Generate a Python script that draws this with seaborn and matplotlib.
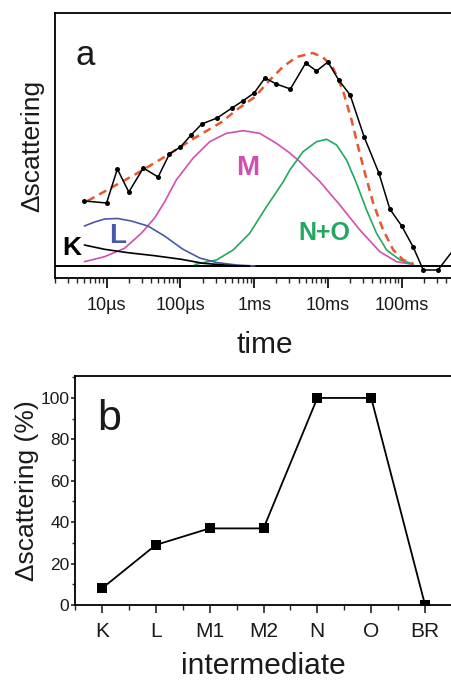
import numpy as np
import pandas as pd
import matplotlib
matplotlib.use("Agg")
import matplotlib.pyplot as plt
import seaborn as sns
from matplotlib.ticker import FixedLocator, FixedFormatter, LogLocator, NullFormatter, MultipleLocator

# ---------------- Panel a data (time in s, scattering in arbitrary units) ----------------
data_t = [5e-6, 1e-5, 1.4e-5, 2e-5, 3.15e-5, 5e-5, 7.1e-5, 1e-4, 1.4e-4, 1.95e-4,
          3.15e-4, 5e-4, 7e-4, 1e-3, 1.4e-3, 2e-3, 3.1e-3, 5e-3, 7e-3, 1e-2,
          1.4e-2, 2e-2, 3.1e-2, 4.9e-2, 6.9e-2, 1e-1, 1.43e-1, 1.96e-1, 3.1e-1, 5e-1]
data_v = [65, 63, 97, 74, 98, 89, 112, 119, 131, 142,
          148, 158, 165, 173, 188, 182, 177, 203, 195, 204,
          186, 171, 129, 93, 57, 40, 19, -4, -4, 16]

fit_t = [5.5e-6, 2.64e-5, 6.1e-5, 1.56e-4, 3.63e-4, 5.75e-4, 1.02e-3, 1.63e-3, 2.44e-3,
         3.75e-3, 6.2e-3, 8.5e-3, 1.16e-2, 1.59e-2, 2.09e-2, 2.57e-2, 3.17e-2, 4.1e-2,
         5.6e-2, 7.7e-2, 0.105, 0.143]
fit_v = [65, 93, 109, 128, 144, 156, 169, 186, 199,
         209, 213, 209, 199, 176, 146, 119, 93, 63,
         36, 16, 6, 2.7]

K_t = [5.0e-6, 9.4e-6, 1.95e-5, 4.48e-5, 1.03e-4, 2.03e-4, 5.2e-4, 8.7e-4]
K_v = [21, 16.7, 13.3, 10.3, 6.7, 2.7, 0.3, 0]

L_t = [5.0e-6, 6.9e-6, 9.4e-6, 1.41e-5, 2.16e-5, 3.63e-5, 6.1e-5, 1.07e-4, 1.83e-4,
       3.08e-4, 5.75e-4, 1.02e-3]
L_v = [40, 44, 47, 47.5, 45, 40, 30, 17, 8, 3.5, 1, 0]

M_t = [5.0e-6, 9.4e-6, 1.75e-5, 2.96e-5, 4.48e-5, 6.1e-5, 8.8e-5, 1.48e-4, 2.5e-4,
       4.2e-4, 7.1e-4, 1.19e-3, 2.0e-3, 3.04e-3, 4.16e-3, 7.8e-3, 1.45e-2, 2.71e-2,
       5.06e-2, 8.5e-2, 0.143]
M_v = [4.3, 9.3, 17.7, 32.7, 48, 64, 86, 107.7, 124.3,
       132.7, 135.3, 132.7, 122.7, 113, 104.3, 84.3, 61, 36,
       14.3, 4.3, 1.5]

NO_t = [1.57e-4, 3.08e-4, 5.2e-4, 8.7e-4, 1.47e-3, 2.47e-3, 3.04e-3, 4.6e-3, 7.0e-3,
        9.6e-3, 1.31e-2, 1.79e-2, 2.44e-2, 3.34e-2, 4.56e-2, 6.24e-2, 9.5e-2, 0.143]
NO_v = [1.5, 6, 16, 32.7, 59.3, 84, 96, 114.3, 124.3,
        126.7, 121, 106, 82.7, 56, 32.7, 16, 6, 2]

a_tick_vals = [1e-5, 1e-4, 1e-3, 1e-2, 1e-1]
a_tick_labels = ["10µs", "100µs", "1ms", "10ms", "100ms"]

# ---------------- Panel b data ----------------
intermediates = ["K", "L", "M1", "M2", "N", "O", "BR"]
scatter_pct = [8, 29, 37, 37, 100, 100, 0]

# ---------------- styling ----------------
sns.set_theme(style="white")
plt.rcParams["font.family"] = ["Liberation Sans", "DejaVu Sans"]
plt.rcParams["axes.linewidth"] = 1.3

magenta = "#d24fb0"
blue = "#4a58a8"
green = "#22a860"
red = "#e8552e"
ink = "#1a1a1a"

fig = plt.figure(figsize=(4.51, 6.81), dpi=100)

# ---------------- Panel a ----------------
W, H = 451.0, 681.0
axa = fig.add_axes([55 / W, (H - 278) / H, (475.5 - 55) / W, (278 - 13) / H])

df_data = pd.DataFrame({"t": data_t, "v": data_v})
df_fit = pd.DataFrame({"t": fit_t, "v": fit_v})
df_K = pd.DataFrame({"t": K_t, "v": K_v})
df_L = pd.DataFrame({"t": L_t, "v": L_v})
df_M = pd.DataFrame({"t": M_t, "v": M_v})
df_NO = pd.DataFrame({"t": NO_t, "v": NO_v})

axa.axhline(0, color="black", lw=1.4, zorder=1)
sns.lineplot(data=df_M, x="t", y="v", ax=axa, color=magenta, lw=1.2, sort=False, estimator=None)
sns.lineplot(data=df_NO, x="t", y="v", ax=axa, color=green, lw=1.2, sort=False, estimator=None)
sns.lineplot(data=df_L, x="t", y="v", ax=axa, color=blue, lw=1.2, sort=False, estimator=None)
sns.lineplot(data=df_K, x="t", y="v", ax=axa, color="black", lw=1.2, sort=False, estimator=None)
sns.lineplot(data=df_fit, x="t", y="v", ax=axa, color=red, lw=1.8, sort=False, estimator=None,
             linestyle=(0, (3.2, 2.2)))
sns.lineplot(data=df_data, x="t", y="v", ax=axa, color="black", lw=1.1, sort=False, estimator=None,
             marker="o", markersize=3.6, markeredgewidth=0, markerfacecolor="black")

axa.set_xscale("log")
axa.set_xlim(2e-6, 1.0)
axa.set_ylim(-12, 253)
axa.xaxis.set_major_locator(FixedLocator(a_tick_vals))
axa.xaxis.set_major_formatter(FixedFormatter(a_tick_labels))
axa.xaxis.set_minor_locator(LogLocator(base=10, subs=np.arange(2, 10)))
axa.xaxis.set_minor_formatter(NullFormatter())
axa.set_yticks([])
axa.tick_params(axis="x", which="major", direction="out", length=7, width=1.2,
                bottom=True, labelsize=13, pad=7, colors="black", labelcolor=ink)
axa.tick_params(axis="x", which="minor", direction="out", length=3.5, width=1.0, bottom=True)
axa.set_xlabel("time", fontsize=21.5, labelpad=12, color=ink)
axa.set_ylabel("Δscattering", fontsize=19, labelpad=7.5, color=ink)
for s in axa.spines.values():
    s.set_color("black")
    s.set_linewidth(1.3)

axa.text(0.048, 0.804, "a", transform=axa.transAxes, fontsize=25, ha="left", va="baseline", color=ink)
axa.text(8.05e-4, 91, "M", color=magenta, fontsize=20, fontweight="bold", ha="center", va="baseline")
axa.text(8.9e-3, 26, "N+O", color=green, fontsize=18, fontweight="bold", ha="center", va="baseline")
axa.text(1.39e-5, 23.3, "L", color=blue, fontsize=20, fontweight="bold", ha="center", va="baseline")
axa.text(3.4e-6, 11, "K", color="black", fontsize=19, fontweight="bold", ha="center", va="baseline")

# ---------------- Panel b ----------------
axb = fig.add_axes([75 / W, (H - 605) / H, (452 - 75) / W, (605 - 376) / H])
df_b = pd.DataFrame({"intermediate": intermediates, "pct": scatter_pct})
df_b["pos"] = np.arange(len(intermediates))
sns.lineplot(data=df_b, x="pos", y="pct", ax=axb, color="black", lw=1.3, sort=False,
             estimator=None, marker="s", markersize=7.5, markeredgewidth=0)
axb.set_xlim(-0.5, 6.5)
axb.set_ylim(0, 110.6)
axb.set_xticks(df_b["pos"])
axb.set_xticklabels(intermediates)
axb.xaxis.set_minor_locator(FixedLocator(np.arange(-0.5, 7.0, 1.0)))
axb.yaxis.set_major_locator(MultipleLocator(20))
axb.yaxis.set_minor_locator(MultipleLocator(10))
axb.tick_params(axis="x", which="major", direction="out", length=6, width=1.2, bottom=True,
                labelsize=15, pad=6, labelcolor=ink)
axb.tick_params(axis="x", which="minor", direction="out", length=3.5, width=1.0, bottom=True)
axb.tick_params(axis="y", which="major", direction="out", length=3, width=1.2, left=True,
                labelsize=12.5, pad=1, labelcolor=ink)
axb.tick_params(axis="y", which="minor", direction="out", length=2, width=1.0, left=True)
axb.set_xlabel("intermediate", fontsize=21.5, labelpad=8, color=ink)
axb.set_ylabel("Δscattering (%)", fontsize=19, labelpad=1, color=ink)
for s in axb.spines.values():
    s.set_color("black")
    s.set_linewidth(1.3)
axb.text(0.0585, 0.764, "b", transform=axb.transAxes, fontsize=31, ha="left", va="baseline", color=ink)

fig.savefig("out.png", dpi=100, facecolor="white")
